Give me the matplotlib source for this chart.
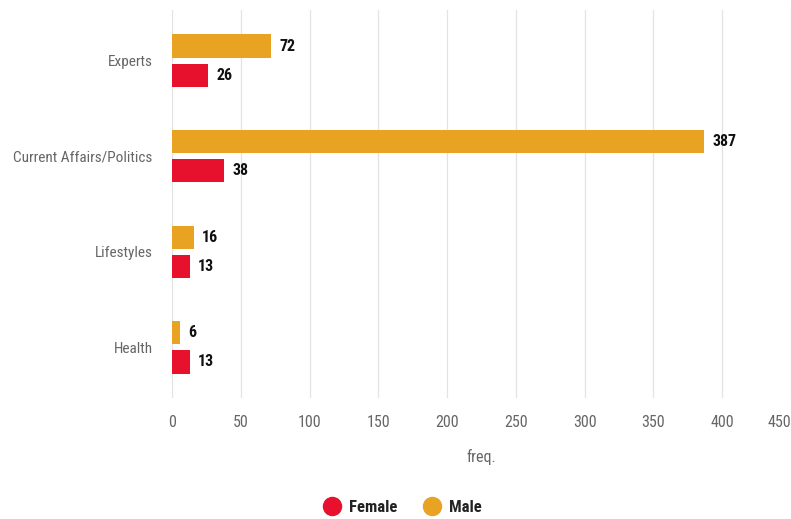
import matplotlib
matplotlib.use("Agg")
import matplotlib.pyplot as plt
from matplotlib import font_manager as fm
from matplotlib.lines import Line2D
import numpy as np

categories = ["Experts", "Current Affairs/Politics", "Lifestyles", "Health"]
male = [72, 387, 16, 6]
female = [26, 38, 13, 13]

names = {f.name for f in fm.fontManager.ttflist}
fam = [f for f in ["Roboto Condensed", "Liberation Sans Narrow", "Roboto"] if f in names] + ["DejaVu Sans"]
plt.rcParams['font.family'] = fam

MALE_C = "#E9A322"
FEMALE_C = "#E8112D"

fig = plt.figure(figsize=(7.91, 5.19), dpi=100)
ax = fig.add_axes([172/791, 1-398/519, 1-172/791, 388/519])

y = np.arange(len(categories))
h = 0.243
off = 0.153
ax.barh(y - off, male, height=h, color=MALE_C, zorder=3)
ax.barh(y + off, female, height=h, color=FEMALE_C, zorder=3)

for yi, v in zip(y - off, male):
    ax.text(v + 6, yi, str(v), va="center", ha="left", fontsize=11.5, fontweight="bold", color="#111111")
for yi, v in zip(y + off, female):
    ax.text(v + 6, yi, str(v), va="center", ha="left", fontsize=11.5, fontweight="bold", color="#111111")

ax.set_xlim(0, 450)
ax.set_ylim(3.53, -0.53)
ax.set_yticks(y)
ax.set_yticklabels(categories)
ax.set_xticks(np.arange(0, 451, 50))
ax.tick_params(axis="y", length=0, pad=14, labelsize=11, labelcolor="#666666")
ax.tick_params(axis="x", length=0, pad=12, labelsize=11.5, labelcolor="#666666")
ax.grid(axis="x", color="#e3e3e3", linewidth=0.9, zorder=0)
for s in ax.spines.values():
    s.set_visible(False)
ax.set_xlabel("freq.", fontsize=11.5, color="#666666", labelpad=14)
fig.canvas.draw()
ax.get_xticklabels()[-1].set_horizontalalignment("right")

handles = [Line2D([], [], marker="o", linestyle="", markersize=13, color=FEMALE_C),
           Line2D([], [], marker="o", linestyle="", markersize=13, color=MALE_C)]
fig.legend(handles, ["Female", "Male"], loc="center", bbox_to_anchor=(402/791, 1-507/519),
           ncol=2, frameon=False, handlelength=1.2, handletextpad=0.4, columnspacing=1.5,
           prop={"weight": "bold", "size": 12})
for t in fig.legends[0].get_texts():
    t.set_color("#222222")

fig.savefig("out.png", dpi=100)
